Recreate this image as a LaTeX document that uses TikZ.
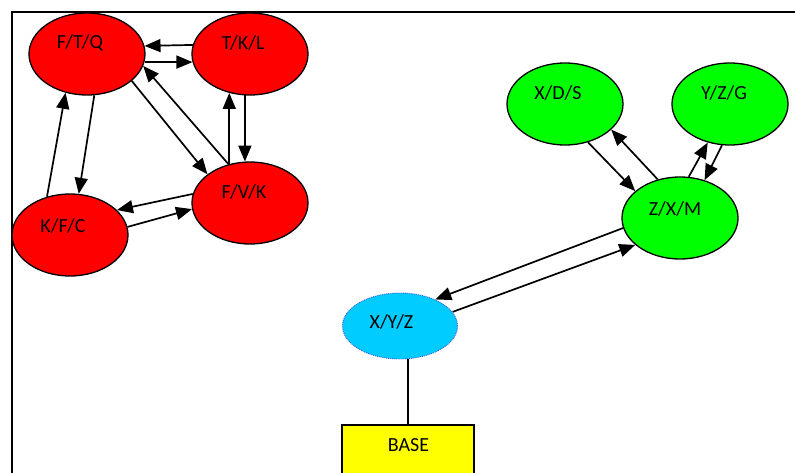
\documentclass[tikz,border=0pt]{standalone}
\usepackage{fontspec}
\setmainfont{Carlito}
\usetikzlibrary{arrows.meta,shapes.geometric}
\definecolor{nodered}{RGB}{255,0,0}
\definecolor{nodegreen}{RGB}{0,255,0}
\definecolor{nodecyan}{RGB}{0,204,255}
\definecolor{nodeyellow}{RGB}{255,255,0}
\definecolor{dotblue}{RGB}{60,90,230}
\tikzset{
  ell/.style={ellipse, draw=black, line width=1.3pt, inner sep=0pt,
              minimum width=116pt, minimum height=82pt},
  rednode/.style={ell, fill=nodered},
  greennode/.style={ell, fill=nodegreen},
  hubnode/.style={ellipse, draw=dotblue, densely dotted, line width=0.9pt,
              fill=nodecyan, inner sep=0pt, minimum width=115pt, minimum height=66pt},
  basebox/.style={rectangle, draw=black, line width=1.3pt, fill=nodeyellow,
              minimum width=132pt, minimum height=70pt, inner sep=0pt},
  lbl/.style={font=\fontsize{20}{24}\selectfont, inner sep=0pt},
  arr/.style={line width=1.7pt, -{Triangle[length=16pt,width=13pt]}},
  link/.style={line width=1.3pt},
  frame/.style={line width=2pt}
}
\begin{document}
\begin{tikzpicture}[x=1pt,y=-1pt]
\path[use as bounding box, clip] (0,0) rectangle (795,473);
\fill[white] (0,0) rectangle (795,473);

% frame lines
\coordinate (frameA) at (11.5,480);
\coordinate (frameB) at (11.5,12);
\coordinate (frameC) at (800,12);
\draw[frame] (frameA) -- (frameB) -- (frameC);

% red cluster
\node[rednode] (ftq) at (87,54) {};
\node[rednode] (tkl) at (250,54) {};
\node[rednode] (fvk) at (250,203) {};
\node[rednode] (kfc) at (70,235) {};

% green cluster
\node[greennode] (xds) at (565,104) {};
\node[greennode] (yzg) at (730,104) {};
\node[greennode] (zxm) at (680,218) {};

% hub and base
\node[hubnode] (xyz) at (400,326) {};
\node[basebox] (base) at (408,460) {};

% labels
\node[lbl] (ftqt) at ([shift={(-7,-11)}]ftq.center) {F/T/Q};
\node[lbl] (tklt) at ([shift={(-7,-11)}]tkl.center) {T/K/L};
\node[lbl] (fvkt) at ([shift={(-6,-11)}]fvk.center) {F/V/K};
\node[lbl] (kfct) at ([shift={(-7,-9)}]kfc.center) {K/F/C};
\node[lbl] (xdst) at ([shift={(-7,-11)}]xds.center) {X/D/S};
\node[lbl] (yzgt) at ([shift={(-6,-11)}]yzg.center) {Y/Z/G};
\node[lbl] (zxmt) at ([shift={(-5,-9)}]zxm.center) {Z/X/M};
\node[lbl] (xyzt) at ([shift={(-8.5,-4)}]xyz.center) {X/Y/Z};
\node[lbl] (baset) at (408.5,445) {BASE};

% red connectors
\draw[arr] (tkl.171) -- (ftq.8);
\draw[arr] (ftq.-8) -- (tkl.188);
\draw[arr] (ftq.-31) -- (fvk.146);
\draw[arr] (fvk.119) -- (ftq.-12);
\draw[arr] (fvk.118) -- (tkl.242);
\draw[arr] (tkl.263) -- (fvk.97);
\draw[arr] (ftq.280) -- (kfc.78);
\draw[arr] (kfc.121) -- (ftq.241);
\draw[arr] (fvk.171) -- (kfc.28);
\draw[arr] (kfc.8) -- (fvk.186);

% green connectors
\draw[arr] (xds.-59) -- (zxm.149);
\draw[arr] (zxm.120) -- (xds.-29);
\draw[arr] (zxm.78) -- (yzg.240);
\draw[arr] (yzg.259) -- (zxm.57);

% hub connectors
\draw[arr] (zxm.190) -- (xyz.37);
\draw[arr] (xyz.15) -- (zxm.211);
\draw[link] (xyz.south -| base.north) -- (base.north);
\end{tikzpicture}
\end{document}
